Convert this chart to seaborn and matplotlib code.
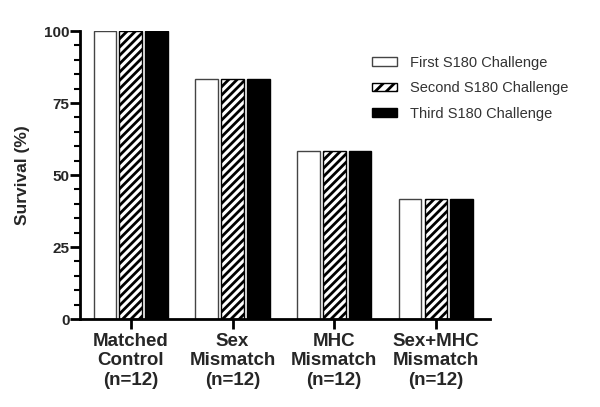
import matplotlib
matplotlib.use("Agg")
import matplotlib.pyplot as plt
import seaborn as sns
import pandas as pd
from matplotlib.ticker import MultipleLocator

groups = ["Matched\nControl\n(n=12)", "Sex\nMismatch\n(n=12)",
          "MHC\nMismatch\n(n=12)", "Sex+MHC\nMismatch\n(n=12)"]
series = ["First S180 Challenge", "Second S180 Challenge", "Third S180 Challenge"]
first = [100, 83.3, 58.3, 41.7]
second = [100, 83.3, 58.3, 41.7]
third = [100, 83.3, 58.3, 41.7]


def main():
    sns.set_theme(style="ticks")
    plt.rcParams["font.family"] = ["Liberation Sans", "DejaVu Sans"]
    plt.rcParams["hatch.linewidth"] = 2.0
    plt.rcParams["hatch.color"] = "black"

    df = pd.DataFrame({
        "group": groups * 3,
        "series": [s for s in series for _ in groups],
        "value": first + second + third,
    })

    fig = plt.figure(figsize=(6, 4.07), dpi=100)
    ax = fig.add_axes([0.1333, 0.2162, 0.683, 0.7076])

    sns.barplot(data=df, x="group", y="value", hue="series", hue_order=series,
                palette=["white", "white", "black"], width=0.76,
                gap=0.12, ax=ax, errorbar=None, saturation=1)

    # estilo de barras: borde, rayado
    n = len(groups)
    for i, patch in enumerate(ax.patches[: n * 3]):
        k = i // n
        if k == 0:
            patch.set_edgecolor("#444444")
        elif k == 1:
            patch.set_hatch("////")
            patch.set_edgecolor("black")
        else:
            patch.set_edgecolor("black")
        patch.set_linewidth(1.0)

    handles, labels = ax.get_legend_handles_labels()
    handles[0].set_edgecolor("#444444")
    handles[1].set_hatch("///")
    handles[1].set_edgecolor("black")
    handles[2].set_edgecolor("black")
    leg = ax.legend(handles, labels, loc="upper left",
                    bbox_to_anchor=(0.698, 0.934), frameon=False,
                    fontsize=10.5, handlelength=1.7, handleheight=0.55,
                    labelspacing=0.78, handletextpad=0.9, borderaxespad=0)
    for t in leg.get_texts():
        t.set_color("#333333")

    ax.set_ylim(0, 100)
    ax.set_xlim(-0.5, 3.53)
    ax.yaxis.set_major_locator(MultipleLocator(25))
    ax.yaxis.set_minor_locator(MultipleLocator(5))
    ax.set_xlabel("")
    ax.set_ylabel("Survival (%)", fontsize=12.5, fontweight="bold", labelpad=10)

    for lbl in ax.get_yticklabels():
        lbl.set_fontweight("bold")
        lbl.set_fontsize(11)
    for lbl in ax.get_xticklabels():
        lbl.set_fontweight("bold")
        lbl.set_fontsize(13.5)
        lbl.set_linespacing(1.2)

    ax.tick_params(axis="both", which="major", length=7, width=2, color="black", pad=0.5)
    ax.tick_params(axis="y", which="minor", length=4.5, width=1.5, color="black")
    ax.tick_params(axis="x", pad=3)
    for s in ["left", "bottom"]:
        ax.spines[s].set_linewidth(2)
        ax.spines[s].set_color("black")
    sns.despine(ax=ax)

    fig.savefig("out.png", dpi=100)


if __name__ == "__main__":
    main()
